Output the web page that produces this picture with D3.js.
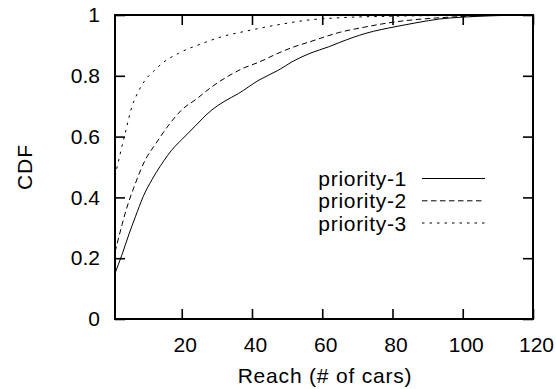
<!DOCTYPE html>
<html>
<head>
<meta charset="utf-8">
<script src="https://cdn.jsdelivr.net/npm/d3@7/dist/d3.min.js"></script>
<style>
  html, body { margin: 0; padding: 0; background: #fff; }
  svg { display: block; font-family: "Liberation Sans", Arial, sans-serif; }
</style>
</head>
<body>
<svg id="chart" width="556" height="389"></svg>
<script>
// values
const p1Reach = [1, 3, 5, 6.8, 9, 11.5, 14, 18, 20, 23, 28.6, 32, 36.2, 42, 47.6, 51.4, 56.5, 62, 65, 72.5, 81, 87, 93.5, 100, 110, 120];
const p1Cdf   = [0.15, 0.212, 0.28, 0.336, 0.402, 0.458, 0.505, 0.567, 0.59, 0.625, 0.688, 0.715, 0.742, 0.786, 0.819, 0.846, 0.874, 0.896, 0.91, 0.94, 0.962, 0.975, 0.987, 0.993, 0.998, 1];

const p2Reach = [1, 3, 3.9, 6.8, 9.6, 12.5, 16.3, 20, 24, 28.6, 33.4, 37.5, 42, 47, 51.4, 56.5, 65, 72, 80, 93.5, 100, 110, 120];
const p2Cdf   = [0.22, 0.31, 0.348, 0.446, 0.523, 0.575, 0.638, 0.688, 0.722, 0.764, 0.8, 0.825, 0.845, 0.872, 0.893, 0.912, 0.943, 0.96, 0.976, 0.991, 0.995, 0.999, 1];

const p3Reach = [1, 2.2, 3.9, 5.8, 7.5, 9.6, 12, 14.4, 19.1, 26.7, 31.5, 37.5, 47, 56.5, 65, 80, 100, 120];
const p3Cdf   = [0.47, 0.53, 0.611, 0.698, 0.745, 0.786, 0.815, 0.841, 0.874, 0.91, 0.929, 0.945, 0.967, 0.984, 0.991, 0.996, 0.999, 1];

const seriesNames = ["priority-1", "priority-2", "priority-3"];
const xTicks = [20, 40, 60, 80, 100, 120];
const yTicks = [0, 0.2, 0.4, 0.6, 0.8, 1];

const series = [
  { name: seriesNames[0], dash: null, pts: p1Reach.map((x, i) => [x, p1Cdf[i]]) },
  { name: seriesNames[1], dash: "5.5,3.5", pts: p2Reach.map((x, i) => [x, p2Cdf[i]]) },
  { name: seriesNames[2], dash: "2.5,5", pts: p3Reach.map((x, i) => [x, p3Cdf[i]]) }
];

const margin = { top: 15, right: 23, bottom: 70, left: 115 };
const width = 556, height = 389;
const svg = d3.select("#chart");

const x = d3.scaleLinear().domain([1, 120]).range([margin.left, width - margin.right]);
const y = d3.scaleLinear().domain([0, 1]).range([height - margin.bottom, margin.top]);

svg.append("clipPath").attr("id", "plot")
  .append("rect")
  .attr("x", x(1)).attr("y", y(1))
  .attr("width", x(120) - x(1)).attr("height", y(0) - y(1));

const line = d3.line()
  .x(d => x(d[0]))
  .y(d => y(d[1]))
  .curve(d3.curveMonotoneX);

const lines = svg.append("g").attr("clip-path", "url(#plot)");
series.forEach(s => {
  lines.append("path")
    .attr("d", line(s.pts))
    .attr("fill", "none")
    .attr("stroke", "#000")
    .attr("stroke-width", 1)
    .attr("stroke-dasharray", s.dash);
});

// axes with inward ticks on all four sides, gnuplot style
const tickLen = 10;
const fmtY = d => d === 0 || d === 1 ? String(d) : d.toFixed(1);

const axBottom = svg.append("g")
  .attr("transform", `translate(0,${y(0)})`)
  .call(d3.axisBottom(x).tickValues(xTicks).tickSize(-tickLen).tickPadding(18).tickFormat(d3.format("d")));
const axTop = svg.append("g")
  .attr("transform", `translate(0,${y(1)})`)
  .call(d3.axisTop(x).tickValues(xTicks).tickSize(-tickLen).tickFormat(""));
const axLeft = svg.append("g")
  .attr("transform", `translate(${x(1)},0)`)
  .call(d3.axisLeft(y).tickValues(yTicks).tickSize(-tickLen).tickPadding(15).tickFormat(fmtY));
const axRight = svg.append("g")
  .attr("transform", `translate(${x(120)},0)`)
  .call(d3.axisRight(y).tickValues(yTicks).tickSize(-tickLen).tickFormat(""));

[axBottom, axTop, axLeft, axRight].forEach(g => {
  g.select(".domain").remove();
  g.selectAll(".tick line").attr("stroke", "#000").attr("stroke-width", 1.6);
  g.selectAll(".tick text").attr("fill", "#000").style("font-size", "21px")
    .style("font-family", '"Liberation Sans", Arial, sans-serif');
});
axBottom.selectAll(".tick text").attr("dx", 3);

svg.append("rect")
  .attr("x", x(1)).attr("y", y(1))
  .attr("width", x(120) - x(1)).attr("height", y(0) - y(1))
  .attr("fill", "none").attr("stroke", "#000").attr("stroke-width", 2);

// axis titles
svg.append("text")
  .attr("x", (x(1) + x(120)) / 2 + 1).attr("y", 383)
  .attr("text-anchor", "middle").style("font-size", "21px")
  .style("letter-spacing", "0.8px")
  .text("Reach (# of cars)");

svg.append("text")
  .attr("transform", `translate(32,${(y(0) + y(1)) / 2}) rotate(-90)`)
  .attr("text-anchor", "middle").style("font-size", "21px")
  .style("letter-spacing", "1px")
  .text("CDF");

// legend
const legend = svg.append("g");
const legendY = [178.5, 200.8, 223];
series.forEach((s, i) => {
  legend.append("text")
    .attr("x", 407).attr("y", legendY[i] + 7.5)
    .attr("text-anchor", "end").style("font-size", "21px")
    .style("letter-spacing", "0.7px")
    .text(s.name);
  legend.append("line")
    .attr("x1", 422).attr("x2", 485)
    .attr("y1", legendY[i]).attr("y2", legendY[i])
    .attr("stroke", "#000").attr("stroke-width", 1)
    .attr("stroke-dasharray", s.dash);
});
</script>
</body>
</html>
